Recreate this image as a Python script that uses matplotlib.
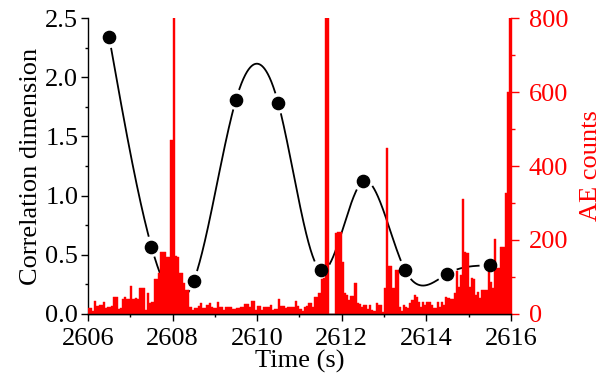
import numpy as np
import matplotlib
matplotlib.use("Agg")
import matplotlib.pyplot as plt
from matplotlib.ticker import MultipleLocator, FormatStrFormatter

plt.rcParams["font.family"] = ["Liberation Serif", "DejaVu Serif"]
plt.rcParams["font.size"] = 19

# correlation dimension estimates (one per second window)
cd_time = [2606.5, 2607.5, 2608.5, 2609.5, 2610.5, 2611.5, 2612.5, 2613.5, 2614.5, 2615.5]
cd_value = [2.34, 0.57, 0.28, 1.81, 1.78, 0.37, 1.12, 0.37, 0.34, 0.41]

# acoustic emission hits per 0.05 s bin, starting at 2606.0 s
bin_start = 2606.0
bin_width = 0.05
ae_counts = [
    15, 15, 8, 35, 22, 24, 24, 33, 15, 18,
    18, 22, 45, 45, 13, 15, 41, 47, 41, 41,
    76, 40, 43, 40, 69, 69, 69, 11, 58, 29,
    33, 94, 94, 110, 168, 168, 168, 155, 155, 470,
    820, 157, 155, 110, 110, 83, 65, 65, 20, 11,
    15, 15, 22, 29, 15, 15, 24, 31, 20, 15,
    15, 33, 20, 20, 11, 20, 18, 18, 13, 13,
    15, 15, 20, 20, 27, 27, 18, 36, 36, 11,
    22, 22, 11, 20, 20, 18, 24, 11, 13, 13,
    40, 22, 22, 15, 20, 20, 18, 18, 36, 22,
    13, 9, 18, 22, 31, 31, 20, 45, 47, 56,
    94, 96, 820, 820, 0, 0, 0, 218, 222, 222,
    141, 56, 51, 38, 49, 49, 85, 30, 27, 18,
    24, 24, 13, 24, 11, 9, 29, 24, 24, 6,
    69, 450, 130, 130, 69, 119, 119, 20, 9, 24,
    20, 15, 31, 38, 51, 47, 33, 20, 33, 24,
    33, 33, 24, 15, 15, 33, 20, 33, 24, 47,
    42, 40, 40, 56, 117, 74, 105, 312, 168, 164,
    74, 96, 94, 51, 60, 42, 65, 65, 65, 132,
    87, 69, 202, 123, 123, 180, 180, 328, 600, 820,
]


def natural_spline(x, y, xs):
    """Evaluate a natural cubic spline through (x, y) at xs."""
    x = np.asarray(x, float)
    y = np.asarray(y, float)
    n = len(x)
    h = np.diff(x)
    A = np.zeros((n, n))
    r = np.zeros(n)
    A[0, 0] = A[-1, -1] = 1.0
    for i in range(1, n - 1):
        A[i, i - 1] = h[i - 1]
        A[i, i] = 2 * (h[i - 1] + h[i])
        A[i, i + 1] = h[i]
        r[i] = 6 * ((y[i + 1] - y[i]) / h[i] - (y[i] - y[i - 1]) / h[i - 1])
    m = np.linalg.solve(A, r)
    idx = np.clip(np.searchsorted(x, xs) - 1, 0, n - 2)
    x0, x1 = x[idx], x[idx + 1]
    hh = x1 - x0
    t0 = x1 - xs
    t1 = xs - x0
    return (m[idx] * t0 ** 3 / (6 * hh) + m[idx + 1] * t1 ** 3 / (6 * hh)
            + (y[idx] / hh - m[idx] * hh / 6) * t0
            + (y[idx + 1] / hh - m[idx + 1] * hh / 6) * t1)


fig, ax = plt.subplots(figsize=(6.01, 3.80), dpi=100)
fig.subplots_adjust(left=0.1464, right=0.850, top=0.9526, bottom=0.1737)
ax2 = ax.twinx()

ax.set_xlim(2606, 2616)
ax.set_ylim(0, 2.5)
ax2.set_ylim(0, 800)

# AE histogram
edges = bin_start + bin_width * np.arange(len(ae_counts))
ax2.bar(edges, ae_counts, width=bin_width, align="edge", color="#ff0000",
        edgecolor="#ff0000", linewidth=0.3, zorder=2)

# smooth curve through the CD points, broken around each marker
xs = np.linspace(cd_time[0], cd_time[-1], 2000)
ys = natural_spline(cd_time, cd_value, xs)
curve_px = ax.transData.transform(np.column_stack([xs, ys]))
marker_px = ax.transData.transform(np.column_stack([cd_time, cd_value]))
gap = 11.0
for mx, my in marker_px:
    near = np.hypot(curve_px[:, 0] - mx, curve_px[:, 1] - my) < gap
    ys[near] = np.nan
ax2.plot(xs, ys, color="black", linewidth=1.3, transform=ax.transData, zorder=1)
ax2.plot(cd_time, cd_value, "o", color="black", markersize=8.8,
         transform=ax.transData, zorder=3)

# left axis
ax.xaxis.set_major_locator(MultipleLocator(2))
ax.xaxis.set_minor_locator(MultipleLocator(1))
ax.yaxis.set_major_locator(MultipleLocator(0.5))
ax.yaxis.set_minor_locator(MultipleLocator(0.25))
ax.yaxis.set_major_formatter(FormatStrFormatter("%.1f"))
ax.tick_params(which="major", direction="out", length=5, width=1, pad=2)
ax.tick_params(axis="x", which="major", pad=5)
ax.tick_params(which="minor", direction="out", length=2.5, width=1)
ax.set_xlabel("Time (s)", labelpad=0)
ax.set_ylabel("Correlation dimension", labelpad=2)

# right axis in red
ax2.yaxis.set_major_locator(MultipleLocator(200))
ax2.yaxis.set_minor_locator(MultipleLocator(100))
ax2.tick_params(which="major", direction="out", length=6, width=1, pad=7,
                colors="#ff0000")
ax2.tick_params(which="minor", direction="out", length=3, width=1,
                colors="#ff0000")
ax2.set_ylabel("AE counts", color="#ff0000", labelpad=8)

for a in (ax, ax2):
    a.spines["top"].set_visible(False)
    for s in a.spines.values():
        s.set_linewidth(1)
ax.spines["right"].set_visible(False)
ax2.spines["right"].set_color("#ff0000")
ax2.spines["left"].set_visible(False)

fig.savefig("out.png", dpi=100)
